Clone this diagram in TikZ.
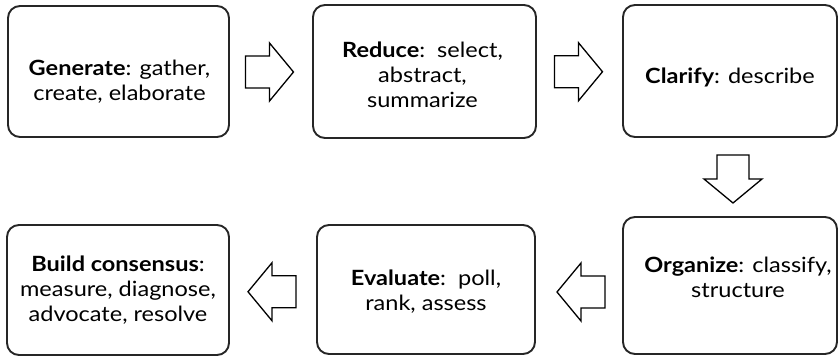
\documentclass[tikz,border=0pt]{standalone}
\usepackage{fontspec}
\setmainfont{Lato}[FakeStretch=1.12]
\usetikzlibrary{calc}
\newcommand{\blockarr}[2]{%
  \draw[blk, shift={(#1)}, rotate=#2] (-24,-16) -- (0,-16) -- (0,-29) -- (24,0) -- (0,29) -- (0,16) -- (-24,16) -- cycle;}
\begin{document}
\begin{tikzpicture}[x=1pt,y=-1pt,
  box/.style={draw=black!85, line width=1.9pt, rounded corners=12pt, fill=white, rectangle, inner sep=0pt},
  txt/.style={align=center, inner sep=0pt, font=\fontsize{21}{25}\selectfont},
  blk/.style={draw=black, line width=1.3pt, fill=white, line join=miter}]
\useasboundingbox[fill=white] (0,0) rectangle (839,358);
% boxes
\node[box, minimum width=221pt, minimum height=131pt] (gen) at (118.5,71.5) {};
\node[box, minimum width=223pt, minimum height=133pt] (red) at (424.5,71.5) {};
\node[box, minimum width=214pt, minimum height=132pt] (cla) at (730,71) {};
\node[box, minimum width=214pt, minimum height=137pt] (org) at (730,285.5) {};
\node[box, minimum width=218pt, minimum height=129pt] (eva) at (426,289.5) {};
\node[box, minimum width=222pt, minimum height=130pt] (bui) at (118,290) {};
% texts
\node[txt] (gen-t) at ($(gen.center)+(1,10)$) {\textbf{Generate}: gather,\\create, elaborate};
\node[txt] (red-t) at ($(red.center)+(-2,3.5)$) {\textbf{Reduce}:\ \ select,\\abstract,\\summarize};
\node[txt] (cla-t) at ($(cla.center)+(0,6)$) {\textbf{Clarify}: describe};
\node[txt] (org-t) at ($(org.center)+(8,-8)$) {\textbf{Organize}: classify,\\structure};
\node[txt] (eva-t) at ($(eva.center)+(0,2)$) {\textbf{Evaluate}:\ \ poll,\\rank, assess};
\node[txt] (bui-t) at ($(bui.center)+(0,0)$) {\textbf{Build consensus}:\\measure, diagnose,\\advocate, resolve};
% arrow positions
\coordinate (m1) at ($(gen.east)!0.5!(red.west)+(-1.5,0.5)$);
\coordinate (m2) at ($(red.east)!0.5!(cla.west)+(-1,0.5)$);
\coordinate (m3) at ($(cla.south)!0.5!(org.north)+(3,2)$);
\coordinate (m4) at ($(eva.east)!0.5!(org.west)+(2,4.5)$);
\coordinate (m5) at ($(bui.east)!0.5!(eva.west)+(-1,2)$);
\blockarr{m1}{0}
\blockarr{m2}{0}
\blockarr{m3}{-90}
\blockarr{m4}{180}
\blockarr{m5}{180}
\end{tikzpicture}
\end{document}
